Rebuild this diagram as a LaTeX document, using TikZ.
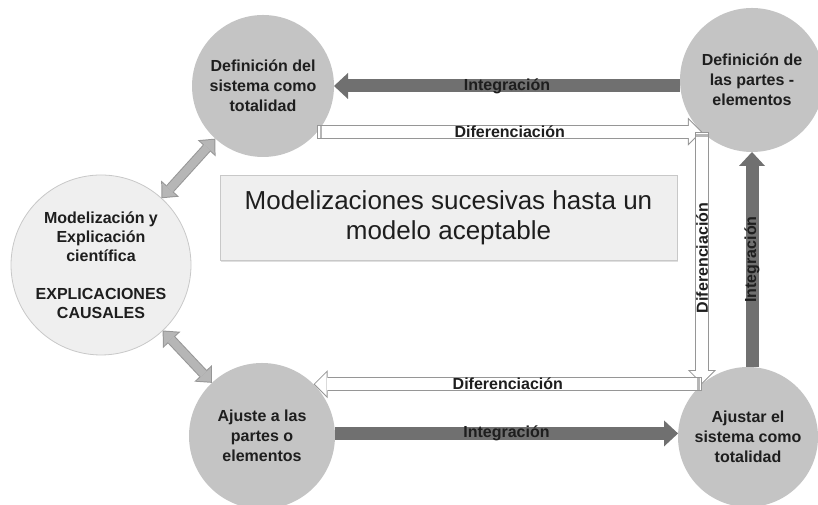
\documentclass[tikz,border=0pt]{standalone}
\usepackage{fontspec}
\setmainfont{Liberation Sans}
\usetikzlibrary{arrows.meta,shadows,decorations.markings}

\definecolor{circgray}{RGB}{196,196,196}
\definecolor{intgray}{RGB}{112,112,112}
\definecolor{difgray}{RGB}{150,150,150}
\definecolor{dblgray}{RGB}{182,182,182}
\definecolor{palegray}{RGB}{239,239,239}
\definecolor{rimgray}{RGB}{200,200,200}
\definecolor{txtgray}{RGB}{30,30,30}

\begin{document}
\begin{tikzpicture}[x=0.75pt, y=0.75pt]
\tikzset{ inner sep=0pt, outer sep=0pt,
  circ/.style={circle, fill=circgray, text=txtgray, align=center,
    font=\bfseries\fontsize{12}{15}\selectfont},
  int/.style={draw=intgray, line width=9.75pt,
    -{Triangle[width=19.5pt,length=10.5pt,line width=0pt]}},
  dif/.style={draw=difgray, line width=10.5pt,
    -{Triangle[width=21pt,length=10.5pt,line width=0pt]},
    postaction={draw=white, line width=9pt, shorten <=0.75pt, shorten >=1.06pt,
      -{Triangle[width=17.4pt,length=8.7pt,line width=0pt]}},
    postaction={decorate, decoration={markings, mark=at position 2.8pt with
      {\draw[-, difgray!70, line width=2pt] (0,-4.5pt) -- (0,4.5pt);}}}},
  dbl/.style={draw=difgray, line width=7.5pt,
    {Triangle[width=18pt,length=9.75pt,line width=0pt]}-{Triangle[width=18pt,length=9.75pt,line width=0pt]},
    postaction={draw=dblgray, line width=6pt, shorten <=1.1pt, shorten >=1.1pt,
      {Triangle[width=14.6pt,length=7.9pt,line width=0pt]}-{Triangle[width=14.6pt,length=7.9pt,line width=0pt]}}},
  lbl/.style={text=txtgray, font=\bfseries\fontsize{12}{14}\selectfont},
}

\useasboundingbox (0,0) rectangle (818,505);

\node [circ, minimum size=106.5pt] (TL) at (263,419) {Definición del\\sistema como\\totalidad};
\node [circ, minimum size=108pt]   (TR) at (752,425) {Definición de\\las partes -\\elementos};
\node [circ, minimum size=109.5pt] (BL) at (262,69)  {Ajuste a las\\partes o\\elementos};
\node [circ, minimum size=105pt]   (BR) at (748,68)  {Ajustar el\\sistema como\\totalidad};
\node [circ, minimum size=135pt, fill=palegray, draw=rimgray, line width=0.6pt,
  font=\bfseries\fontsize{12}{14.25}\selectfont] (M) at (101,240)
  {Modelización y\\Explicación\\científica\\[14.25pt]EXPLICACIONES\\CAUSALES};

\node [draw=rimgray, fill=palegray, minimum width=342.75pt, minimum height=63.75pt,
  align=center, text=txtgray, font=\fontsize{19.5}{22.5}\selectfont,
  drop shadow={opacity=0.25, shadow xshift=1pt, shadow yshift=-1.2pt}] (B) at (448.5,287.5)
  {Modelizaciones sucesivas hasta un\\modelo aceptable};

% corners of the loop
\coordinate (UC) at (TR.226);
\coordinate (LC) at (BR.131);

\draw [int] (TR.west |- TL.east) -- (TL.east) node [lbl, midway] (I1) {Integración};
\draw [dif] (TL.-40) -- (TL.-40 -| UC) node [lbl, midway] (D1) {Diferenciación};
\draw [dif] (UC) -- (UC |- LC) node [lbl, midway, rotate=90] (D2) {Diferenciación};
\draw [int] (TR.south |- BR.north) -- (TR.south) node [lbl, midway, rotate=90] (I2) {Integración};
\draw [dif] (LC) -- (LC -| BL.45) node [lbl, midway] (D3) {Diferenciación};
\draw [int] (BL.2) -- (BL.2 -| BR.178) node [lbl, midway] (I3) {Integración};

\draw [dbl] (M) -- (TL);
\draw [dbl] (M) -- (BL);

\end{tikzpicture}
\end{document}
